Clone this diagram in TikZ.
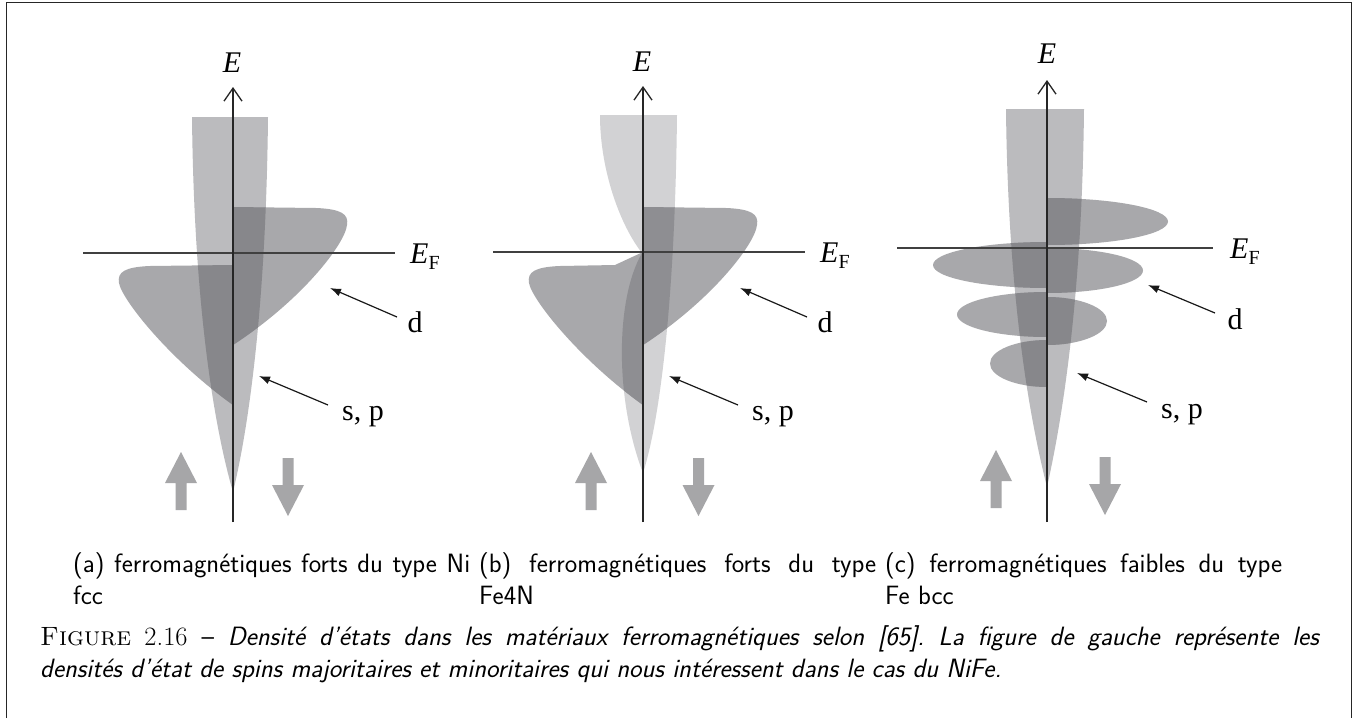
\documentclass[tikz,border=0pt]{standalone}
\usepackage{fontspec}
\newfontfamily\tnr{Liberation Serif}
\usetikzlibrary{arrows.meta}
\definecolor{spA}{HTML}{BBBBBE}
\definecolor{spB}{HTML}{D2D2D4}
\definecolor{dcol}{HTML}{A8A8AB}
\definecolor{ovA}{HTML}{87878B}
\definecolor{ovB}{HTML}{8E8E92}
\definecolor{spinc}{HTML}{A6A6A8}
\frenchspacing
\begin{document}
\begin{tikzpicture}[x=1pt,y=-1pt,
  axisline/.style={line width=1.3pt, draw=black!85, -{Straight Barb[length=13pt,width=18pt]}},
  efline/.style={line width=1.2pt, draw=black!75},
  annarrow/.style={line width=1.2pt, draw=black!90, -{Latex[length=11pt,width=8pt]}},
  lab/.style={font=\tnr\fontsize{30}{30}\selectfont, inner sep=0pt},
  capt/.style={font=\sffamily\fontsize{26.5}{32}\selectfont, inner sep=0pt},
  spinup/.pic={\fill[spinc] (-5.5,58) -- (-5.5,31) -- (-16,31) -- (0,0) -- (16,31) -- (5.5,31) -- (5.5,58) -- cycle;},
  spindown/.pic={\fill[spinc] (-5.5,0) -- (-5.5,27) -- (-16,27) -- (0,58) -- (16,27) -- (5.5,27) -- (5.5,0) -- cycle;},
]
\useasboundingbox (0,0) rectangle (1371,718);
\fill[white] (0,0) rectangle (1371,718);
% frame
\draw[line width=1.5pt, draw=black!85] (6.5,718) -- (6.5,2.5) -- (1351.5,2.5) -- (1351.5,718);

% ---------- panel (a) ----------
\def\spal{(233,117) -- (192,117) .. controls (194,310) and (215,430) .. (233,492) -- cycle}
\def\spar{(233,117) -- (268,117) .. controls (266,310) and (248,430) .. (233,492) -- cycle}
\def\dal{(233,265) -- (150,266) .. controls (125,267) and (117,272) .. (119,283) .. controls (122,300) and (170,360) .. (233,405) -- cycle}
\def\dar{(233,207) -- (316,208) .. controls (341,209) and (349,214) .. (347,225) .. controls (345,244) and (302,300) .. (233,345) -- cycle}
\fill[spA] \spal; \fill[spA] \spar;
\fill[dcol] \dal; \fill[dcol] \dar;
\begin{scope}\clip \dal; \fill[ovA] \spal; \end{scope}
\begin{scope}\clip \dar; \fill[ovA] \spar; \end{scope}

% ---------- panel (b) ----------
\def\spbl{(643,115) -- (600,115) .. controls (600,170) and (620,225) .. (642,253) .. controls (615,300) and (615,400) .. (643,473) -- cycle}
\def\spbr{(643,115) -- (677,115) .. controls (675,300) and (660,420) .. (643,473) -- cycle}
\def\dbl{(643,252) -- (615,265) -- (560,266) .. controls (535,267) and (527,272) .. (529,283) .. controls (532,300) and (580,360) .. (643,405) -- cycle}
\def\dbr{(643,207) -- (726,208) .. controls (751,209) and (759,214) .. (757,225) .. controls (755,244) and (712,300) .. (643,345) -- cycle}
\fill[spB] \spbl; \fill[spB] \spbr;
\fill[dcol] \dbl; \fill[dcol] \dbr;
\begin{scope}\clip \dbl; \fill[ovB] \spbl; \end{scope}
\begin{scope}\clip \dbr; \fill[ovB] \spbr; \end{scope}

% ---------- panel (c) ----------
\def\spcl{(1047,109) -- (1006,109) .. controls (1008,300) and (1030,420) .. (1047,487) -- cycle}
\def\spcr{(1047,109) -- (1084,109) .. controls (1082,300) and (1062,420) .. (1047,487) -- cycle}
\def\dcl{(1047,265) ellipse [x radius=114, y radius=23] (1047,314.5) ellipse [x radius=90, y radius=22.5] (1047,363.5) ellipse [x radius=57, y radius=23.5]}
\def\dcr{(1047,221.5) ellipse [x radius=121, y radius=23.5] (1047,270.5) ellipse [x radius=96, y radius=22.5] (1047,321) ellipse [x radius=60, y radius=24]}
\fill[spA] \spcl; \fill[spA] \spcr;
\begin{scope}\clip (800,0) rectangle (1047,520); \fill[dcol] \dcl; \end{scope}
\begin{scope}\clip (1047,0) rectangle (1300,520); \fill[dcol] \dcr; \end{scope}
\begin{scope}\clip \spcl; \fill[ovA] \dcl; \end{scope}
\begin{scope}\clip \spcr; \fill[ovA] \dcr; \end{scope}

% ---------- axes, Fermi lines, labels ----------
\coordinate (a0) at (233,522); \coordinate (a1) at (233,87);
\coordinate (b0) at (643,522); \coordinate (b1) at (643,86);
\coordinate (c0) at (1047,522); \coordinate (c1) at (1047,80);
\coordinate (efa0) at (83,253); \coordinate (efa1) at (395,253);
\coordinate (efb0) at (493,252); \coordinate (efb1) at (805,252);
\coordinate (efc0) at (897,248); \coordinate (efc1) at (1213,248);
\draw[efline] (efa0) -- (efa1);
\draw[efline] (efb0) -- (efb1);
\draw[efline] (efc0) -- (efc1);
\draw[axisline] (a0) -- (a1);
\draw[axisline] (b0) -- (b1);
\draw[axisline] (c0) -- (c1);

\node[lab, anchor=base] (Ea) at (232,72) {\itshape E};
\node[lab, anchor=base] (Eb) at (642,71) {\itshape E};
\node[lab, anchor=base] (Ec) at (1047,63) {\itshape E};
\node[lab, anchor=base west] (EFa) at (410,263) {\itshape E\raisebox{-6pt}{\fontsize{20}{20}\selectfont\upshape F}};
\node[lab, anchor=base west] (EFb) at (820,262) {\itshape E\raisebox{-6pt}{\fontsize{20}{20}\selectfont\upshape F}};
\node[lab, anchor=base west] (EFc) at (1230,258) {\itshape E\raisebox{-6pt}{\fontsize{20}{20}\selectfont\upshape F}};

% annotation labels and arrows
\node[lab, anchor=base] (da) at (415,332) {d};
\node[lab, anchor=base] (spa) at (363,420) {s, p};
\node[lab, anchor=base] (db) at (825,332) {d};
\node[lab, anchor=base] (spb) at (773,420) {s, p};
\node[lab, anchor=base] (dc) at (1235,329) {d};
\node[lab, anchor=base] (spc) at (1182,418) {s, p};
\coordinate (dta) at (397,317); \coordinate (dha) at (330,288);
\coordinate (sta) at (328,405); \coordinate (sha) at (259,376);
\coordinate (dtb) at (807,317); \coordinate (dhb) at (740,288);
\coordinate (stb) at (738,405); \coordinate (shb) at (669,376);
\coordinate (dtc) at (1215,313); \coordinate (dhc) at (1148,285);
\coordinate (stc) at (1147,402); \coordinate (shc) at (1077,373);
\draw[annarrow] (dta) -- (dha);
\draw[annarrow] (sta) -- (sha);
\draw[annarrow] (dtb) -- (dhb);
\draw[annarrow] (stb) -- (shb);
\draw[annarrow] (dtc) -- (dhc);
\draw[annarrow] (stc) -- (shc);

% spin arrows
\pic at (181,452) {spinup};
\pic at (288,458) {spindown};
\pic at (591,452) {spinup};
\pic at (698.5,458) {spindown};
\pic at (996,450) {spinup};
\pic at (1105,457) {spindown};

% ---------- captions ----------
\node[capt, anchor=base west] (ca1) at (73,572) {\makebox[397pt][s]{(a) ferromagnétiques forts du type Ni}};
\node[capt, anchor=base west] (ca2) at (73,604) {fcc};
\node[capt, anchor=base west] (cb1) at (479,572) {\makebox[397pt][s]{(b) ferromagnétiques forts du type}};
\node[capt, anchor=base west] (cb2) at (479,604) {Fe4N};
\node[capt, anchor=base west] (cc1) at (885,572) {\makebox[397pt][s]{(c) ferromagnétiques faibles du type}};
\node[capt, anchor=base west] (cc2) at (885,604) {Fe bcc};
\node[capt, anchor=base west] (fig1) at (40,645) {\makebox[1280pt][s]{{\rmfamily\textsc{Figure} 2.16} – \textit{Densité d'états dans les matériaux ferromagnétiques selon [65]. La figure de gauche représente les}}};
\node[capt, anchor=base west] (fig2) at (40,677) {\textit{densités d'état de spins majoritaires et minoritaires qui nous intéressent dans le cas du NiFe.}};
\end{tikzpicture}
\end{document}
